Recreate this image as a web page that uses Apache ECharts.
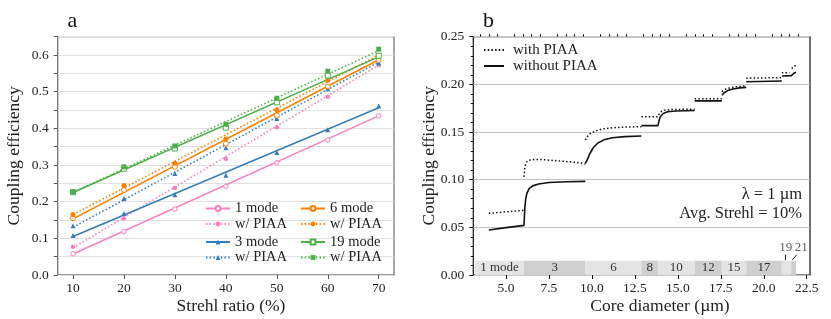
<!DOCTYPE html>
<html><head><meta charset="utf-8">
<script src="https://cdn.jsdelivr.net/npm/echarts@6/dist/echarts.min.js"></script>
<style>html,body{margin:0;padding:0;background:#fff}#c{width:831px;height:319px}</style>
</head><body><div id="c"></div>
<script>
// ---------- Panel a data ----------
const strehl = [10, 20, 30, 40, 50, 60, 70];
const oneMode          = [0.058, 0.118, 0.180, 0.242, 0.306, 0.368, 0.434];
const oneModePIAA      = [0.077, 0.154, 0.237, 0.317, 0.403, 0.486, 0.573];
const threeMode        = [0.108, 0.168, 0.219, 0.272, 0.334, 0.396, 0.461];
const threeModePIAA    = [0.134, 0.209, 0.277, 0.347, 0.427, 0.508, 0.578];
const sixMode          = [0.155, 0.232, 0.295, 0.358, 0.435, 0.514, 0.586];
const sixModePIAA      = [0.165, 0.244, 0.305, 0.371, 0.450, 0.531, 0.598];
const nineteenMode     = [0.226, 0.290, 0.345, 0.402, 0.471, 0.544, 0.598];
const nineteenModePIAA = [0.227, 0.295, 0.352, 0.411, 0.482, 0.556, 0.616];
// fitted straight lines (values read at x = 10 and x = 70)
const fitX = [10, 70];
const fitOneMode          = [0.057, 0.434];
const fitOneModePIAA      = [0.074, 0.572];
const fitThreeMode        = [0.105, 0.456];
const fitThreeModePIAA    = [0.130, 0.581];
const fitSixMode          = [0.153, 0.587];
const fitSixModePIAA      = [0.165, 0.600];
const fitNineteenMode     = [0.225, 0.595];
const fitNineteenModePIAA = [0.225, 0.612];
const xTicksA = [10, 20, 30, 40, 50, 60, 70];

// ---------- Panel b data ----------
// each segment is a list of [core diameter (µm), coupling efficiency]
const withoutPIAA = [
  [[4.0,0.0472],[5.0,0.0497],[6.05,0.0521],[6.07,0.060],[6.10,0.071],[6.15,0.080],[6.22,0.086],[6.35,0.0905],[6.55,0.0935],[6.9,0.0955],[7.5,0.097],[8.5,0.0978],[9.62,0.0982]],
  [[9.62,0.117],[9.72,0.1205],[9.9,0.128],[10.1,0.134],[10.35,0.1385],[10.7,0.1418],[11.2,0.1440],[11.9,0.1452],[12.88,0.1458]],
  [[12.88,0.1567],[13.84,0.1567],[13.87,0.1590],[13.92,0.163],[14.0,0.1665],[14.15,0.1695],[14.4,0.1712],[14.9,0.172],[15.98,0.1726]],
  [[15.98,0.1827],[17.56,0.1827]],
  [[17.56,0.1885],[17.7,0.1912],[17.9,0.1935],[18.2,0.1952],[18.6,0.1963],[18.98,0.1968]],
  [[18.98,0.2028],[21.05,0.2035]],
  [[21.05,0.2088],[21.6,0.2092],[21.68,0.2105],[21.78,0.212],[21.88,0.2128]]
];
const withPIAA = [
  [[4.0,0.0647],[5.0,0.0662],[6.05,0.0679]],
  [[6.05,0.103],[6.09,0.111],[6.15,0.117],[6.25,0.1198],[6.5,0.1210],[7.0,0.1212],[8.0,0.1198],[9.0,0.1183],[9.4,0.1175],[9.62,0.1162]],
  [[9.62,0.1416],[9.75,0.1455],[9.9,0.1485],[10.2,0.151],[10.6,0.1532],[11.2,0.1545],[12.0,0.1552],[12.88,0.1556]],
  [[12.88,0.166],[13.84,0.166],[13.9,0.1685],[14.0,0.1712],[14.2,0.1728],[14.6,0.1736],[15.3,0.1738],[15.98,0.174]],
  [[15.98,0.1848],[17.56,0.1848]],
  [[17.56,0.1925],[17.75,0.1948],[18.0,0.1962],[18.4,0.1975],[18.98,0.1985]],
  [[18.98,0.2065],[21.05,0.207]],
  [[21.05,0.2122],[21.5,0.2122]],
  [[21.62,0.2165],[21.88,0.2203]]
];
const bandEdges  = [3.2, 6.05, 9.62, 12.88, 13.84, 15.98, 17.56, 18.98, 21.05, 21.6, 21.88];
const bandLabels = ['1 mode', '3', '6', '8', '10', '12', '15', '17', '', ''];
const xTicksB = [5.0, 7.5, 10.0, 12.5, 15.0, 17.5, 20.0, 22.5];
const xMinorB = [3.5,4.0,4.5,5.5,6.0,6.5,7.0,8.0,8.5,9.0,9.5,10.5,11.0,11.5,12.0,13.0,13.5,14.0,14.5,15.5,16.0,16.5,17.0,18.0,18.5,19.0,19.5,20.5,21.0,21.5,22.0];
// small annotations for the two narrowest mode bands
const smallBandNotes = [{text:'19', x:21.28, y:0.0288}, {text:'21', x:22.18, y:0.0288}];
const smallBandPointers = [[[21.26,0.0155],[21.26,0.0215]], [[21.66,0.0158],[21.92,0.0212]]];

// ---------- helpers ----------
const SERIF = '"Liberation Serif", "DejaVu Serif", serif';
const PINK = '#f781bf', BLUE = '#377eb8', ORANGE = '#ff7f00', GREEN = '#4daf4a';
const pts = (xs, ys) => xs.map((x, i) => [x, ys[i]]);
const joinSegs = segs => { const out = []; segs.forEach((s, i) => { if (i) out.push(['-', '-']); s.forEach(p => out.push(p)); }); return out; };
const DOT = [1.5, 2.2];

function fitLine(name, xs, ys, color, dotted, symbol, hollow) {
  return {
    type: 'line', name, xAxisIndex: 0, yAxisIndex: 0, data: pts(xs, ys),
    showSymbol: false, symbol, symbolSize: 5,
    itemStyle: hollow ? {color: '#fff', borderColor: color, borderWidth: 1} : {color: color},
    lineStyle: {color, width: 1.6, type: dotted ? DOT : 'solid'},
    silent: true, z: 2
  };
}
function marks(ys, color, symbol, hollow, size) {
  return {
    type: 'scatter', xAxisIndex: 0, yAxisIndex: 0, data: pts(strehl, ys),
    symbol, symbolSize: size,
    itemStyle: hollow ? {color: '#fff', borderColor: color, borderWidth: 1, opacity: 1} : {color: color, opacity: 1},
    silent: true, z: 3
  };
}

const names = {p1:'1 mode', p1w:'w/ PIAA', b3:'3 mode', b3w:'w/ PIAA', o6:'6 mode', o6w:'w/ PIAA', g19:'19 mode', g19w:'w/ PIAA'};
function legendA(data, left, top) {
  return {
    data, left, top, orient: 'vertical', itemWidth: 24, itemHeight: 6, itemGap: 0.5,
    padding: 0, selectedMode: false,
    textStyle: {fontFamily: SERIF, fontSize: 14.5, color: '#222', lineHeight: 14},
    formatter: n => names[n]
  };
}

const bandData = [];
for (let i = 0; i < bandLabels.length; i++) {
  bandData.push([
    {name: bandLabels[i], xAxis: bandEdges[i], yAxis: 0, itemStyle: {color: i % 2 ? '#cfcfcf' : '#e4e4e4'}},
    {xAxis: bandEdges[i + 1], yAxis: 0.015}
  ]);
}

const chart = echarts.init(document.getElementById('c'), null, {renderer: 'canvas'});
const tickLab = {fontFamily: SERIF, fontSize: 13.5, color: '#222'};

chart.setOption({
  animation: false,
  backgroundColor: '#fff',
  grid: [
    {left: 57.7, top: 36.7, width: 336.3, height: 238.3, show: true, borderColor: '#777', borderWidth: 1.3, backgroundColor: 'transparent'},
    {left: 473.3, top: 36.7, width: 336.7, height: 238.3, show: true, borderColor: '#111', borderWidth: 1.2, backgroundColor: 'transparent'}
  ],
  xAxis: [
    {type: 'value', gridIndex: 0, min: 7, max: 73,
     axisLine: {show: false}, splitLine: {show: false},
     axisTick: {show: true, length: 4, lineStyle: {color: '#555', width: 1}, customValues: xTicksA},
     axisLabel: {customValues: xTicksA, margin: 6, ...tickLab, formatter: v => String(v)}},
    {type: 'value', gridIndex: 1, min: 3.1, max: 22.69,
     axisLine: {show: false}, splitLine: {show: false},
     axisTick: {show: true, length: 4, lineStyle: {color: '#111', width: 1}, customValues: xTicksB},
     axisLabel: {customValues: xTicksB, margin: 6, ...tickLab, formatter: v => v.toFixed(1)}},
    {type: 'value', gridIndex: 1, min: 3.1, max: 22.69,
     axisLine: {show: false}, splitLine: {show: false},
     axisTick: {show: true, length: 2.5, lineStyle: {color: '#111', width: 1}, customValues: xMinorB},
     axisLabel: {show: false}}
  ],
  yAxis: [
    {type: 'value', gridIndex: 0, min: 0, max: 0.65, interval: 0.05,
     axisLine: {show: false},
     splitLine: {show: true, lineStyle: {color: '#e1e1e1', width: 1}},
     axisTick: {show: true, length: 4, lineStyle: {color: '#555', width: 1}},
     axisLabel: {margin: 9, ...tickLab, formatter: v => (Math.round(v * 100) % 10 === 0 && v < 0.64) ? v.toFixed(1) : ''}},
    {type: 'value', gridIndex: 1, min: 0, max: 0.25, interval: 0.05,
     axisLine: {show: false},
     splitLine: {show: true, lineStyle: {color: '#c4c4c4', width: 1}},
     axisTick: {show: true, length: 4, lineStyle: {color: '#111', width: 1}},
     minorTick: {show: true, splitNumber: 5, length: 2.5, lineStyle: {color: '#111', width: 1}},
     axisLabel: {margin: 9, ...tickLab, formatter: v => v.toFixed(2)}}
  ],
  legend: [
    legendA(['p1', 'p1w'], 205, 201),
    legendA(['b3', 'b3w'], 205, 234.5),
    legendA(['o6', 'o6w'], 300, 201),
    legendA(['g19', 'g19w'], 300, 234.5),
    {data: ['with PIAA', 'without PIAA'], left: 483, top: 42.5, orient: 'vertical',
     itemWidth: 20, itemHeight: 8, itemGap: 1, padding: 0, selectedMode: false,
     itemStyle: {opacity: 0},
     textStyle: {fontFamily: SERIF, fontSize: 15, color: '#222', lineHeight: 14, padding: [0, 0, 0, 4]}}
  ],
  series: [
    fitLine('p1', fitX, fitOneMode, PINK, false, 'circle', true),
    fitLine('p1w', fitX, fitOneModePIAA, PINK, true, 'circle', false),
    fitLine('b3', fitX, fitThreeMode, BLUE, false, 'triangle', false),
    fitLine('b3w', fitX, fitThreeModePIAA, BLUE, true, 'triangle', false),
    fitLine('o6', fitX, fitSixMode, ORANGE, false, 'circle', true),
    fitLine('o6w', fitX, fitSixModePIAA, ORANGE, true, 'circle', false),
    fitLine('g19', fitX, fitNineteenMode, GREEN, false, 'rect', true),
    fitLine('g19w', fitX, fitNineteenModePIAA, GREEN, true, 'rect', false),
    marks(oneMode, PINK, 'circle', true, 4.5),
    marks(oneModePIAA, PINK, 'circle', false, 4.5),
    marks(threeMode, BLUE, 'triangle', false, 5),
    marks(threeModePIAA, BLUE, 'triangle', false, 5),
    marks(sixMode, ORANGE, 'circle', true, 5),
    marks(sixModePIAA, ORANGE, 'circle', false, 5),
    marks(nineteenMode, GREEN, 'rect', true, 5),
    marks(nineteenModePIAA, GREEN, 'rect', false, 5),
    {type: 'line', name: 'with PIAA', xAxisIndex: 1, yAxisIndex: 1, data: joinSegs(withPIAA),
     showSymbol: false, symbol: 'none', connectNulls: false, silent: true, z: 3,
     itemStyle: {color: '#111'}, lineStyle: {color: '#111', width: 1.5, type: DOT}},
    {type: 'line', name: 'without PIAA', xAxisIndex: 1, yAxisIndex: 1, data: joinSegs(withoutPIAA),
     showSymbol: false, symbol: 'none', connectNulls: false, silent: true, z: 3,
     itemStyle: {color: '#111'}, lineStyle: {color: '#111', width: 1.6},
     markArea: {silent: true, data: bandData,
       label: {show: true, position: 'inside', fontFamily: SERIF, fontSize: 13, color: '#333'}}},
    {type: 'line', xAxisIndex: 1, yAxisIndex: 1, data: joinSegs(smallBandPointers),
     showSymbol: false, symbol: 'none', silent: true, lineStyle: {color: '#222', width: 1}},
    {type: 'scatter', xAxisIndex: 1, yAxisIndex: 1, symbolSize: 0, silent: true,
     data: smallBandNotes.map(d => ({value: [d.x, d.y], name: d.text})),
     label: {show: true, position: 'inside', formatter: '{b}', fontFamily: SERIF, fontSize: 13, color: '#333'}}
  ],
  graphic: [
    {type: 'text', x: 72.5, y: 21, style: {text: 'a', font: '22px ' + SERIF, fill: '#111', align: 'center', verticalAlign: 'middle'}},
    {type: 'text', x: 488.5, y: 21, style: {text: 'b', font: '22px ' + SERIF, fill: '#111', align: 'center', verticalAlign: 'middle'}},
    {type: 'text', x: 14, y: 155.8, rotation: Math.PI / 2, style: {text: 'Coupling efficiency', font: '17.5px ' + SERIF, fill: '#222', align: 'center', verticalAlign: 'middle'}},
    {type: 'text', x: 429, y: 155.8, rotation: Math.PI / 2, style: {text: 'Coupling efficiency', font: '17.5px ' + SERIF, fill: '#222', align: 'center', verticalAlign: 'middle'}},
    {type: 'text', x: 231, y: 306, style: {text: 'Strehl ratio (%)', font: '17.5px ' + SERIF, fill: '#222', align: 'center', verticalAlign: 'middle'}},
    {type: 'text', x: 660, y: 306, style: {text: 'Core diameter (µm)', font: '17.5px ' + SERIF, fill: '#222', align: 'center', verticalAlign: 'middle'}},
    {type: 'text', x: 802, y: 195, style: {text: 'λ = 1 µm', font: '16.5px ' + SERIF, fill: '#222', align: 'right', verticalAlign: 'middle'}},
    {type: 'text', x: 802, y: 213.5, style: {text: 'Avg. Strehl = 10%', font: '16.5px ' + SERIF, fill: '#222', align: 'right', verticalAlign: 'middle'}}
  ]
});
</script>
</body></html>
